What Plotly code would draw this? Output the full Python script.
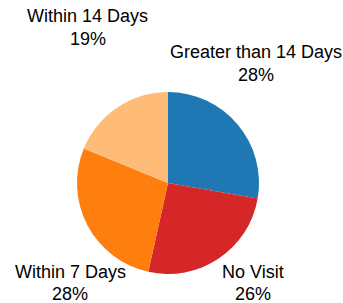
import plotly.graph_objects as go

labels = ["Greater than 14 Days", "No Visit", "Within 7 Days", "Within 14 Days"]
values = [28, 26, 28, 19]
colors = ["#1f77b4", "#d62728", "#ff7f0e", "#ffbb78"]

W, H = 343, 303
cx, cy, r = 168, 183, 91

fig = go.Figure(go.Pie(
    labels=labels, values=values, sort=False, direction="clockwise", rotation=0,
    marker=dict(colors=colors, line=dict(width=0)),
    textinfo="none", hoverinfo="label+percent", showlegend=False,
    domain=dict(x=[(cx - r) / W, (cx + r) / W], y=[1 - (cy + r) / H, 1 - (cy - r) / H]),
))

# label positions: (x center, y of line 1, y of line 2) in pixels
label_pos = [(256, 52, 75), (252.5, 272, 293.5), (70, 272, 293.5), (87.5, 16, 38.5)]
font = dict(family="Liberation Sans, Arial", size=18, color="#000000")
for lab, val, (px, y1, y2) in zip(labels, values, label_pos):
    for txt, py in ((lab, y1), (f"{val}%", y2)):
        fig.add_annotation(
            x=px / W, y=1 - py / H, xref="paper", yref="paper",
            text=txt, showarrow=False, xanchor="center", yanchor="middle",
            font=font,
        )

fig.update_layout(
    width=W, height=H, margin=dict(l=0, r=0, t=0, b=0),
    paper_bgcolor="white", plot_bgcolor="white",
)
fig.write_html("out.html", config={"displayModeBar": False},
               post_script="document.body.style.margin='0';")
